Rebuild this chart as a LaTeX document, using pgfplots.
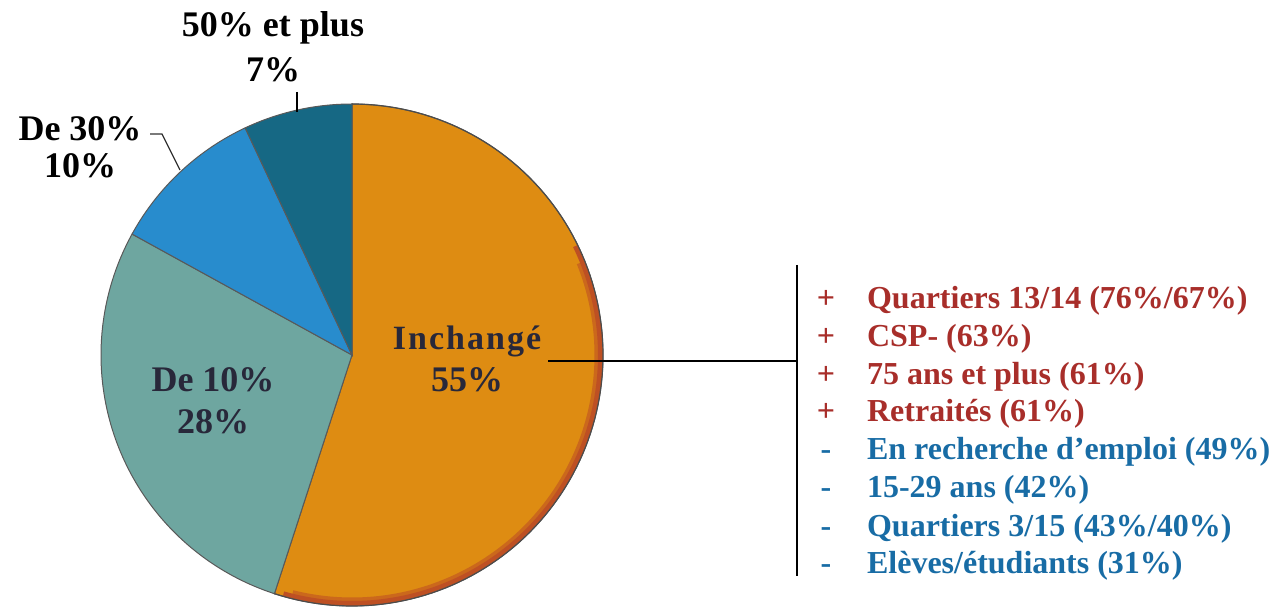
\documentclass[border=0pt]{standalone}
\usepackage{pgfplots}
\pgfplotsset{compat=1.18}
\usepackage{fontspec}
\setmainfont{Liberation Serif}
\definecolor{cOrange}{RGB}{222,140,18}
\definecolor{cOrangeEdge}{RGB}{190,80,35}
\definecolor{cTeal}{RGB}{110,166,160}
\definecolor{cBlue}{RGB}{40,140,205}
\definecolor{cDark}{RGB}{22,104,132}
\definecolor{cRed}{RGB}{168,46,42}
\definecolor{cListBlue}{RGB}{24,108,165}
\definecolor{cLabel}{RGB}{40,40,58}
% pie: center (px) and radius (px)
\def\cx{352}
\def\cy{254}
\def\rr{251}
% slice: #1 = cumulative start (%), #2 = share (%), #3 = colour
\newcommand{\slice}[3]{%
  \addplot[fill=#3, draw=black!65, line width=0.5pt, domain={90-3.6*(#1+#2)}:{90-3.6*#1}, samples=120, variable=\t]
    ({\cx+\rr*cos(\t)},{\cy+\rr*sin(\t)}) -- (axis cs:\cx,\cy) -- cycle;%
}
\newcommand{\li}[4]{%
  \node[anchor=base, text=#3, font=\bfseries\fontsize{16}{18}\selectfont] at (axis cs:826,609-#1) {#2};
  \node[anchor=base west, text=#3, font=\bfseries\fontsize{16}{18}\selectfont] at (axis cs:860,609-#1) {#4};%
}
\begin{document}
\begin{tikzpicture}
\begin{axis}[
  scale only axis, width=634.5pt, height=304.5pt,
  xmin=0, xmax=1269, ymin=0, ymax=609,
  axis lines=none, clip=false,
]
% shares: Inchangé 55, De 10% 28, De 30% 10, 50% et plus 7
\slice{0}{55}{cOrange}
\slice{55}{28}{cTeal}
\slice{83}{10}{cBlue}
\slice{93}{7}{cDark}
% reddish rim on the orange slice
\addplot[draw=cOrangeEdge!60!cOrange, line width=3.5pt, domain=-104:22, samples=100, variable=\t]
  ({\cx+(\rr-5)*cos(\t)},{\cy+(\rr-5)*sin(\t)});
\addplot[draw=cOrangeEdge, line width=2.5pt, domain=-106:26, samples=100, variable=\t]
  ({\cx+(\rr-2.5)*cos(\t)},{\cy+(\rr-2.5)*sin(\t)});
\addplot[draw=black!70, line width=0.6pt, domain=-108:90, samples=120, variable=\t]
  ({\cx+\rr*cos(\t)},{\cy+\rr*sin(\t)});
% leader lines
\draw[black, line width=0.7pt] (axis cs:297,609-92) -- (axis cs:297,609-112);
\draw[black!80, line width=0.6pt] (axis cs:150,609-134) -- (axis cs:162,609-134) -- (axis cs:180,609-170);
\draw[black, line width=0.8pt] (axis cs:548,609-361) -- (axis cs:797,609-361);
\draw[black, line width=0.8pt] (axis cs:797,609-265) -- (axis cs:797,609-576);
% slice labels
\node[anchor=base, font=\bfseries\fontsize{18}{20}\selectfont] at (axis cs:273,609-37) {50\% et plus};
\node[anchor=base, font=\bfseries\fontsize{18}{20}\selectfont] at (axis cs:273,609-82) {7\%};
\node[anchor=base, font=\bfseries\fontsize{18}{20}\selectfont] at (axis cs:80,609-141) {De 30\%};
\node[anchor=base, font=\bfseries\fontsize{18}{20}\selectfont] at (axis cs:80,609-178) {10\%};
\node[anchor=base, text=cLabel, font=\bfseries\addfontfeatures{LetterSpace=6}\fontsize{17}{20}\selectfont] at (axis cs:467,609-350) {Inchangé};
\node[anchor=base, text=cLabel, font=\bfseries\fontsize{18}{20}\selectfont] at (axis cs:467,609-392) {55\%};
\node[anchor=base, text=cLabel, font=\bfseries\fontsize{18}{20}\selectfont] at (axis cs:213,609-392) {De 10\%};
\node[anchor=base, text=cLabel, font=\bfseries\fontsize{18}{20}\selectfont] at (axis cs:213,609-434) {28\%};
% list
\li{309}{+}{cRed}{Quartiers 13/14 (76\%/67\%)}
\li{347}{+}{cRed}{CSP- (63\%)}
\li{385}{+}{cRed}{75 ans et plus (61\%)}
\li{422}{+}{cRed}{Retraités (61\%)}
\li{460}{-}{cListBlue}{En recherche d’emploi (49\%)}
\li{498}{-}{cListBlue}{15-29 ans (42\%)}
\li{537}{-}{cListBlue}{Quartiers 3/15 (43\%/40\%)}
\li{574}{-}{cListBlue}{Elèves/étudiants (31\%)}
\end{axis}
\pgfresetboundingbox
\path (0,0) rectangle (634.5pt,304.5pt);
\end{tikzpicture}
\end{document}
